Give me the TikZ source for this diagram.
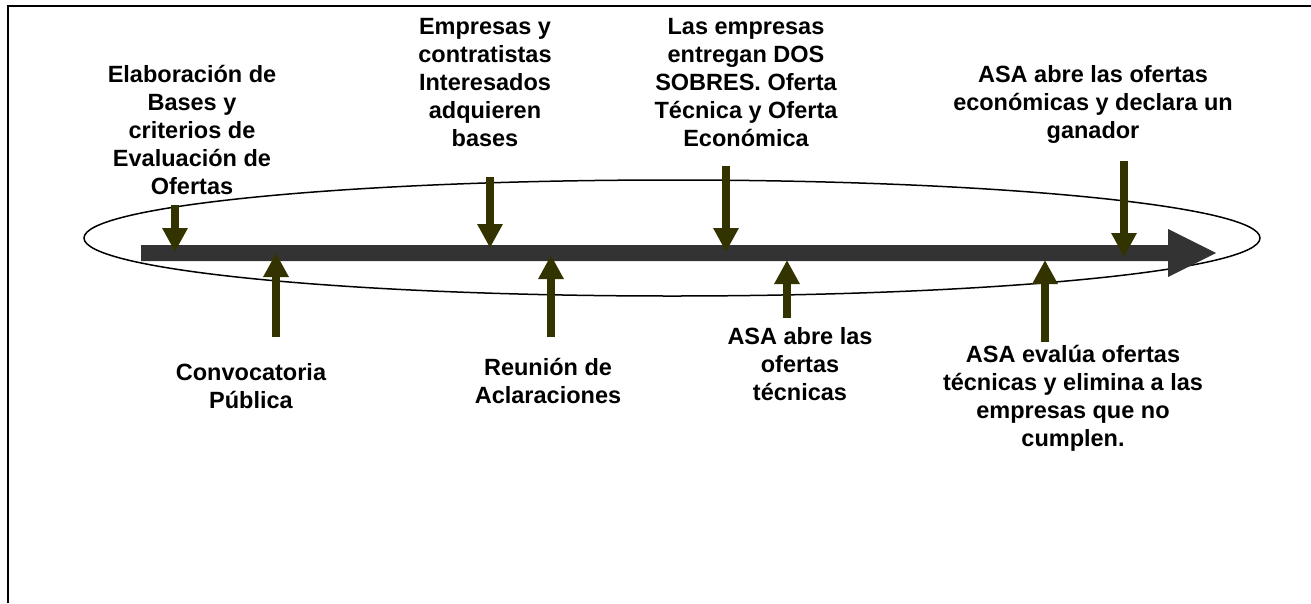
\documentclass[tikz,border=0pt]{standalone}
\usepackage{fontspec}
\setmainfont{Liberation Sans}
\usetikzlibrary{arrows.meta}
\definecolor{olive}{RGB}{51,51,0}
\definecolor{bar}{RGB}{51,51,51}
\begin{document}
\begin{tikzpicture}[x=1pt,y=-1pt,
  lbl/.style={align=center,inner sep=0pt,anchor=base,font=\fontsize{23.5}{28}\selectfont\bfseries},
  evt/.style={draw=olive,line width=8pt,-{Triangle[width=24pt,length=24pt]},fill=olive}]
\useasboundingbox (0,0) rectangle (1311,603);
\draw[line width=2pt] (8,603) -- (8,6) -- (1311,6);
\draw[line width=1.5pt] (672,238) ellipse [x radius=588, y radius=58];
\fill[bar] (141,245) -- (1168,245) -- (1168,229) -- (1216,253) -- (1168,277) -- (1168,261) -- (141,261) -- cycle;
% top labels (anchor = baseline of last line)
\node[lbl] (t1) at (192,194) {Elaboración de\\Bases y\\criterios de\\Evaluación de\\Ofertas};
\node[lbl] (t2) at (485,146) {Empresas y\\contratistas\\Interesados\\adquieren\\bases};
\node[lbl] (t3) at (746,146) {Las empresas\\entregan DOS\\SOBRES. Oferta\\Técnica y Oferta\\Económica};
\node[lbl] (t4) at (1093,138) {ASA abre las ofertas\\económicas y declara un\\ganador};
% bottom labels
\node[lbl] (b1) at (251,408) {Convocatoria\\Pública};
\node[lbl] (b2) at (548,403) {Reunión de\\Aclaraciones};
\node[lbl] (b3) at (800,400) {ASA abre las\\ofertas\\técnicas};
\node[lbl] (b4) at (1073,446) {ASA evalúa ofertas\\técnicas y elimina a las\\empresas que no\\cumplen.};
% arrow coordinates
\coordinate (d1s) at (175,205); \coordinate (d1e) at (175,252);
\coordinate (d2s) at (490,177); \coordinate (d2e) at (490,248);
\coordinate (d3s) at (726,166); \coordinate (d3e) at (726,252);
\coordinate (d4s) at (1124,161); \coordinate (d4e) at (1124,257);
\coordinate (u1s) at (276,337); \coordinate (u1e) at (276,253);
\coordinate (u2s) at (551,337); \coordinate (u2e) at (551,255);
\coordinate (u3s) at (787,318); \coordinate (u3e) at (787,260);
\coordinate (u4s) at (1045,342); \coordinate (u4e) at (1045,260);
\foreach \a in {d1,d2,d3,d4,u1,u2,u3,u4}{\draw[evt] (\a s) -- (\a e);}
\end{tikzpicture}
\end{document}
